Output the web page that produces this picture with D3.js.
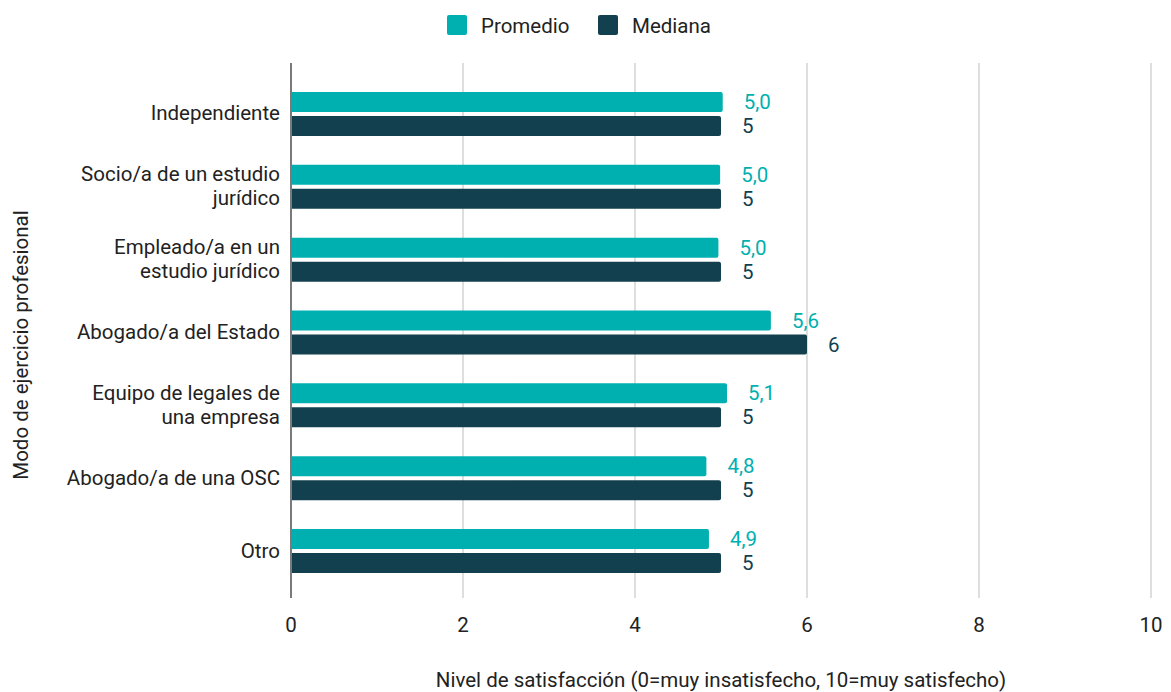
<!DOCTYPE html>
<html><head><meta charset="utf-8">
<script src="https://cdn.jsdelivr.net/npm/d3@7"></script>
<style>body{margin:0;background:#fff;} svg{display:block;font-family:Roboto,sans-serif;}</style>
</head><body>
<svg id="c" width="1171" height="692"></svg>
<script>
const categories = [
  ["Independiente"],
  ["Socio/a de un estudio","jurídico"],
  ["Empleado/a en un","estudio jurídico"],
  ["Abogado/a del Estado"],
  ["Equipo de legales de","una empresa"],
  ["Abogado/a de una OSC"],
  ["Otro"]
];
const promedio = [5.02, 4.99, 4.97, 5.58, 5.07, 4.83, 4.86];
const mediana = [5, 5, 5, 6, 5, 5, 5];
const seriesNames = ["Promedio", "Mediana"];
const seriesColors = ["#00b0b0", "#12404f"];
const xTicks = [0, 2, 4, 6, 8, 10];

const FS = 20.5;
const svg = d3.select("#c");
const x = d3.scaleLinear().domain([0, 10]).range([291, 1151]);
const y = d3.scaleBand().domain(d3.range(categories.length)).range([77, 587]);
const fmt1 = v => d3.format(".1f")(v).replace(".", ",");

// gridlines
svg.append("g").selectAll("line").data(xTicks.filter(t => t > 0)).join("line")
  .attr("x1", d => x(d)).attr("x2", d => x(d)).attr("y1", 63).attr("y2", 598)
  .attr("stroke", "#cccccc").attr("stroke-width", 1.3);

// axis line
svg.append("line").attr("x1", x(0)).attr("x2", x(0)).attr("y1", 63).attr("y2", 598)
  .attr("stroke", "#333").attr("stroke-width", 1.3);

// tick labels
svg.append("g").selectAll("text").data(xTicks).join("text")
  .attr("x", d => x(d)).attr("y", 632).attr("text-anchor", "middle")
  .attr("font-size", FS).attr("fill", "#222").text(d => d);

function roundRight(x0, y0, w, h, r) {
  r = Math.min(r, w);
  return `M${x0},${y0}H${x0 + w - r}Q${x0 + w},${y0} ${x0 + w},${y0 + r}V${y0 + h - r}Q${x0 + w},${y0 + h} ${x0 + w - r},${y0 + h}H${x0}Z`;
}

const bh = 20;
const series = [promedio, mediana];
series.forEach((vals, si) => {
  const g = svg.append("g");
  const off = si === 0 ? -21.5 : 2.5;
  g.selectAll("path").data(vals).join("path")
    .attr("d", (d, i) => roundRight(x(0) + 1, y(i) + y.bandwidth() / 2 + off, x(d) - x(0) - 1, bh, 2))
    .attr("fill", seriesColors[si]);
  g.selectAll("text").data(vals).join("text")
    .attr("x", d => x(d) + 21)
    .attr("y", (d, i) => y(i) + y.bandwidth() / 2 + off + bh / 2 + 7)
    .attr("font-size", FS).attr("fill", seriesColors[si])
    .text(d => si === 0 ? fmt1(d) : d);
});

// category labels
categories.forEach((lines, i) => {
  const cy = y(i) + y.bandwidth() / 2;
  const t = svg.append("text").attr("text-anchor", "end").attr("font-size", FS).attr("fill", "#222");
  const n = lines.length;
  lines.forEach((ln, k) => {
    t.append("tspan").attr("x", 280).attr("y", cy + 7 + (k - (n - 1) / 2) * 24).text(ln);
  });
});

// y title
svg.append("text").attr("transform", "translate(28,345) rotate(-90)")
  .attr("text-anchor", "middle").attr("font-size", FS).attr("fill", "#222")
  .text("Modo de ejercicio profesional");

// x title
svg.append("text").attr("x", 721).attr("y", 687).attr("text-anchor", "middle")
  .attr("font-size", FS).attr("fill", "#222")
  .text("Nivel de satisfacción (0=muy insatisfecho, 10=muy satisfecho)");

// legend
const legX = [447, 598];
seriesNames.forEach((n, i) => {
  svg.append("rect").attr("x", legX[i]).attr("y", 15).attr("width", 20).attr("height", 20).attr("rx", 2)
    .attr("fill", seriesColors[i]);
  svg.append("text").attr("x", legX[i] + 34).attr("y", 33).attr("font-size", FS).attr("fill", "#222").text(n);
});
</script>
</body></html>
